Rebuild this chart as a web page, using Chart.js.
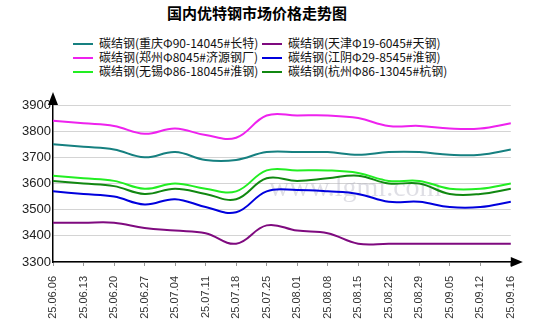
<!DOCTYPE html>
<html lang="zh">
<head>
    <meta charset="UTF-8">
    <title>国内优特钢市场价格走势图</title>
    <script src="https://cdn.jsdelivr.net/npm/chart.js"></script>
    <style>
        body {
            margin: 0;
            background: #ffffff;
            font-family: "Noto Sans CJK SC", sans-serif;
        }
        .wrap {
            position: relative;
            width: 534px;
            height: 331px;
            overflow: hidden;
        }
        #priceChart {
            position: absolute;
            left: 0;
            top: 0;
        }
        h1 {
            position: absolute;
            left: 0;
            width: 514px;
            top: 3px;
            margin: 0;
            font-size: 15px;
            font-weight: bold;
            text-align: center;
            color: #000;
            line-height: 20px;
        }
        .legend {
            position: absolute;
            font-size: 12px;
            color: #111;
            line-height: 14px;
            white-space: nowrap;
        }
        .legend span.swatch {
            display: inline-block;
            width: 20px;
            height: 2px;
            vertical-align: middle;
            margin-right: 6px;
            position: relative;
            top: -1px;
        }
    </style>
</head>
<body>
<div class="wrap">
    <h1>国内优特钢市场价格走势图</h1>
    <div id="legend"></div>
    <canvas id="priceChart" width="534" height="331"></canvas>
</div>

<script>
    const dates = ["25.06.06", "25.06.13", "25.06.20", "25.06.27", "25.07.04", "25.07.11", "25.07.18", "25.07.25",
                   "25.08.01", "25.08.08", "25.08.15", "25.08.22", "25.08.29", "25.09.05", "25.09.12", "25.09.16"];

    const yTicks = [3300, 3400, 3500, 3600, 3700, 3800, 3900];

    const chongqing = [3750, 3740, 3730, 3700, 3720, 3690, 3690, 3720, 3720, 3720, 3710, 3720, 3720, 3710, 3710, 3730];
    const zhengzhou = [3840, 3830, 3820, 3790, 3810, 3785, 3775, 3860, 3860, 3860, 3850, 3820, 3820, 3810, 3810, 3830];
    const wuxi      = [3630, 3620, 3610, 3580, 3600, 3580, 3570, 3650, 3650, 3650, 3640, 3610, 3610, 3580, 3580, 3600];
    const tianjin   = [3450, 3450, 3450, 3430, 3420, 3410, 3370, 3440, 3420, 3410, 3370, 3370, 3370, 3370, 3370, 3370];
    const jiangyin  = [3570, 3560, 3550, 3520, 3540, 3510, 3490, 3570, 3575, 3570, 3560, 3530, 3530, 3510, 3510, 3530];
    const hangzhou  = [3610, 3600, 3590, 3560, 3580, 3560, 3540, 3620, 3610, 3620, 3630, 3600, 3600, 3560, 3560, 3580];

    const seriesNames = [
        "碳结钢(重庆Φ90-14045#长特)",
        "碳结钢(郑州Φ8045#济源钢厂)",
        "碳结钢(无锡Φ86-18045#淮钢)",
        "碳结钢(天津Φ19-6045#天钢)",
        "碳结钢(江阴Φ29-8545#淮钢)",
        "碳结钢(杭州Φ86-13045#杭钢)"
    ];
    const seriesData = [chongqing, zhengzhou, wuxi, tianjin, jiangyin, hangzhou];
    const seriesColors = ["#168080", "#ee22ee", "#22ee22", "#7f0a7f", "#0000dd", "#118811"];

    // legend: two columns of three
    const legendBox = document.getElementById("legend");
    seriesNames.forEach((name, i) => {
        let item = document.createElement("div");
        item.className = "legend";
        item.style.left = (i < 3 ? 73 : 262) + "px";
        item.style.top = (36 + (i % 3) * 14) + "px";
        item.innerHTML = '<span class="swatch" style="background:' + seriesColors[i] + '"></span>' + name;
        legendBox.appendChild(item);
    });

    // arrows on the axes + faint watermark
    const axisExtras = {
        id: "axisExtras",
        beforeDatasetsDraw(chart) {
            const ctx = chart.ctx;
            const a = chart.chartArea;
            ctx.save();
            ctx.fillStyle = "rgba(175, 175, 190, 0.4)";
            ctx.font = "28px 'Liberation Serif', serif";
            ctx.textAlign = "center";
            ctx.textBaseline = "middle";
            ctx.fillText("www.lgmi.com", a.left + (a.right - a.left) * 0.66, a.top + 84);
            ctx.restore();
        },
        afterDraw(chart) {
            const ctx = chart.ctx;
            const a = chart.chartArea;
            ctx.save();
            ctx.fillStyle = "#000";
            ctx.strokeStyle = "#000";
            ctx.lineWidth = 1.5;
            ctx.beginPath();
            ctx.moveTo(a.left, a.top);
            ctx.lineTo(a.left, a.top - 4);
            ctx.moveTo(a.right, a.bottom);
            ctx.lineTo(a.right + 4, a.bottom);
            ctx.stroke();
            ctx.beginPath();
            ctx.moveTo(a.left, a.top - 13);
            ctx.lineTo(a.left - 5, a.top);
            ctx.lineTo(a.left + 5, a.top);
            ctx.closePath();
            ctx.fill();
            ctx.beginPath();
            ctx.moveTo(a.right + 12, a.bottom);
            ctx.lineTo(a.right, a.bottom - 5);
            ctx.lineTo(a.right, a.bottom + 5);
            ctx.closePath();
            ctx.fill();
            ctx.restore();
        }
    };

    const ctx = document.getElementById("priceChart").getContext("2d");
    new Chart(ctx, {
        type: "line",
        data: {
            labels: dates,
            datasets: seriesNames.map((name, i) => ({
                label: name,
                data: seriesData[i],
                borderColor: seriesColors[i],
                backgroundColor: seriesColors[i],
                borderWidth: 2,
                pointRadius: 0,
                tension: 0.4,
                fill: false
            }))
        },
        options: {
            responsive: false,
            animation: false,
            layout: { padding: { left: 0, right: 23, top: 105, bottom: 0 } },
            plugins: {
                legend: { display: false },
                title: { display: false },
                tooltip: { enabled: false }
            },
            scales: {
                x: {
                    offset: false,
                    afterFit(scale) { scale.height = 69; },
                    grid: {
                        drawOnChartArea: false,
                        drawTicks: true,
                        tickLength: 4,
                        color: "#999"
                    },
                    border: { color: "#000", width: 1.5 },
                    ticks: {
                        minRotation: 90,
                        maxRotation: 90,
                        autoSkip: false,
                        padding: 10,
                        color: "#333",
                        font: { family: "'Liberation Sans', Arial", size: 11 }
                    }
                },
                y: {
                    min: 3300,
                    max: 3900,
                    afterFit(scale) { scale.width = 53; },
                    afterBuildTicks(scale) { scale.ticks = yTicks.map(v => ({ value: v })); },
                    grid: {
                        color: "#d4d4d4",
                        drawTicks: false
                    },
                    border: { color: "#000", width: 1.5 },
                    ticks: {
                        padding: 2,
                        color: "#222",
                        font: { family: "'Liberation Sans', Arial", size: 13 },
                        callback: v => String(v)
                    }
                }
            }
        },
        plugins: [axisExtras]
    });
</script>
</body>
</html>
